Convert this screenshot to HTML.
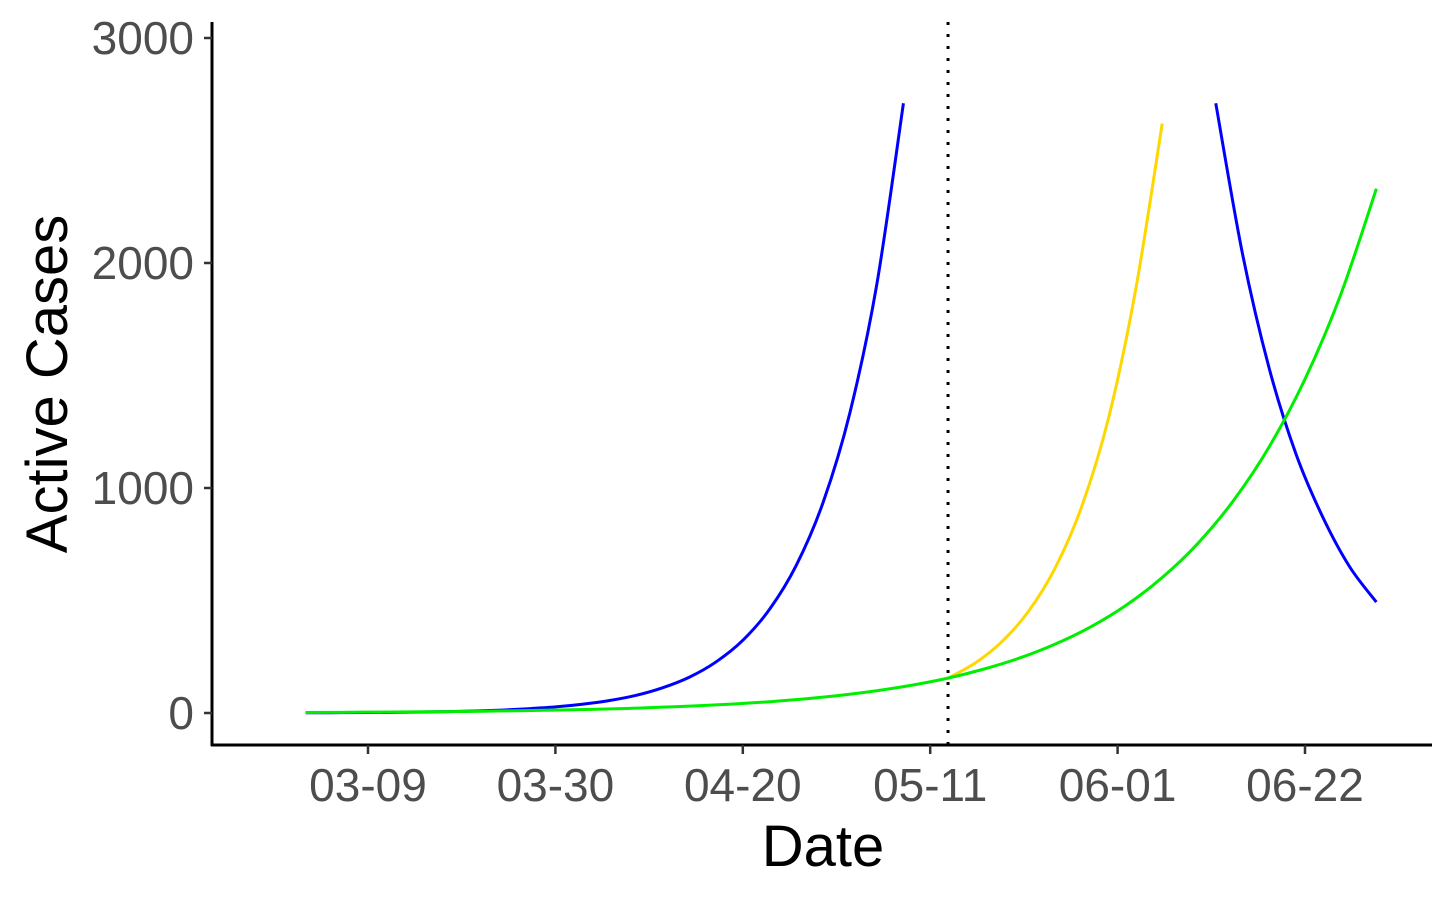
<!DOCTYPE html>
<html><head><meta charset="utf-8"><style>
html,body{margin:0;padding:0;background:#fff;}
svg{display:block;font-family:"Liberation Sans",Arial,sans-serif;}
</style></head><body>
<svg id="chart" width="1456" height="900" viewBox="0 0 1456 900"></svg>
<script>
// Data: days since 03-09
const xTickLabels = ["03-09","03-30","04-20","05-11","06-01","06-22"];
const xTickDays = [0,21,42,63,84,105];
const yTicks = [0,1000,2000,3000];
const interventionDay = 65;
const blue1Days = [-7,-6,-3,0,3,6,9,12,15,18,21,24,27,30,33,36,39,42,45,48,51,54,57,60];
const blue1Vals = [1,1,1.5,2,3,4.5,6,9,13,19,27,39,55,78,112,159,227,323,461,657,936,1334,1901,2710];
const greenDays = [-7,-3,1,5,9,13,17,21,25,29,33,37,41,45,49,53,57,61,65,69,73,77,81,85,89,93,97,101,105,109,113];
const greenVals = [2.5,3,4,5,6,8,10,13,16,20,26,32,40,50,63,79,99,124,155,195,244,306,383,480,602,754,945,1184,1484,1859,2330];
const yellowDays = [65,68,71,74,77,80,83,86,89];
const yellowVals = [155,221,316,451,644,920,1313,1876,2620];
const blue2Days = [95,98,101,104,107,110,113];
const blue2Vals = [2710,2040,1530,1150,870,650,493];

const NS="http://www.w3.org/2000/svg";
const svg=document.getElementById('chart');
const X=d=>368+d*(1305-368)/105;
const Y=v=>713-v*0.225;
function mk(tag,attrs,parent){const e=document.createElementNS(NS,tag);for(const k in attrs)e.setAttribute(k,attrs[k]);(parent||svg).appendChild(e);return e;}

const ya=mk('line',{x1:212,y1:22,x2:212,y2:746,stroke:'#000','stroke-width':3});


const xa=mk('line',{x1:211,y1:745,x2:1432,y2:745,stroke:'#000','stroke-width':3});



yTicks.forEach(v=>{
  const t=mk('line',{x1:204,x2:212,y1:Y(v),y2:Y(v),stroke:'#333','stroke-width':2.5});
  
  
  const l=mk('text',{x:194,y:Y(v)+16,'text-anchor':'end','font-size':46,fill:'#4d4d4d'});
  l.textContent=String(v);
  
  
});
xTickDays.forEach((d,i)=>{
  const t=mk('line',{x1:X(d),x2:X(d),y1:745,y2:754,stroke:'#333','stroke-width':2.5});
  
  
  const l=mk('text',{x:X(d),y:801,'text-anchor':'middle','font-size':46,fill:'#4d4d4d'});
  l.textContent=xTickLabels[i];
  
  
});

const xt=mk('text',{x:823,y:866,'text-anchor':'middle','font-size':58,fill:'#000'});
xt.textContent='Date';


const yt=mk('text',{x:0,y:0,'text-anchor':'middle','font-size':58,fill:'#000',transform:'translate(67,384) rotate(-90)'});
yt.textContent='Active Cases';



const dl=mk('line',{x1:X(interventionDay),x2:X(interventionDay),y1:22,y2:745,stroke:'#000','stroke-width':3,'stroke-dasharray':'3,9'});



function series(days,vals,color,name){
  const pts=days.map((d,i)=>[X(d),Y(vals[i])]);
  let dstr='M'+pts[0][0]+','+pts[0][1];
  for(let i=0;i<pts.length-1;i++){
    const p0=pts[Math.max(0,i-1)],p1=pts[i],p2=pts[i+1],p3=pts[Math.min(pts.length-1,i+2)];
    const c1=[p1[0]+(p2[0]-p0[0])/6,p1[1]+(p2[1]-p0[1])/6];
    const c2=[p2[0]-(p3[0]-p1[0])/6,p2[1]-(p3[1]-p1[1])/6];
    dstr+=' C'+c1+' '+c2+' '+p2;
  }
  const p=mk('path',{d:dstr,fill:'none',stroke:color,'stroke-width':3,'stroke-linejoin':'round'});
  
  
}
series(blue1Days,blue1Vals,'#0000ff','blue-series-growth');
series(yellowDays,yellowVals,'#ffd700','yellow-series');
series(blue2Days,blue2Vals,'#0000ff','blue-series-decline');
series(greenDays,greenVals,'#00ee00','green-series');
</script>
</body></html>
